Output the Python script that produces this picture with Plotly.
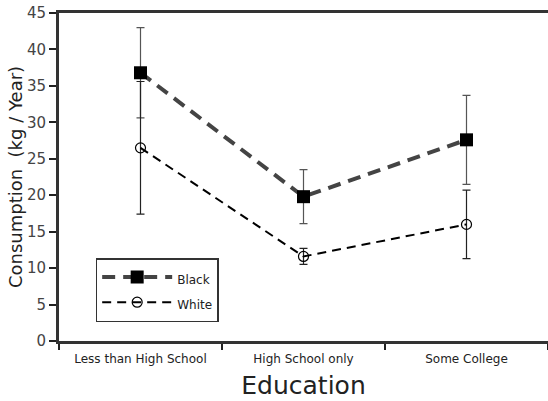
import plotly.graph_objects as go

categories = ["Less than High School", "High School only", "Some College"]
black_values = [36.8, 19.8, 27.6]
black_err = [6.2, 3.7, 6.1]
white_values = [26.5, 11.6, 16.0]
white_err = [9.1, 1.1, 4.7]
y_ticks = [0, 5, 10, 15, 20, 25, 30, 35, 40, 45]
series_names = ["Black", "White"]

FONT = "DejaVu Sans"
TXT = "#222222"


def legend_label(name):
    return f'<span style="font-size:12px">{name}</span>'


fig = go.Figure()
fig.add_trace(go.Scatter(
    x=categories, y=black_values, name=legend_label(series_names[0]), mode="lines+markers",
    line=dict(color="#444444", width=4, dash="13px,8px"),
    marker=dict(symbol="square", size=13, color="black"),
    error_y=dict(type="data", array=black_err, color="#555555", thickness=1.2, width=4),
))
fig.add_trace(go.Scatter(
    x=categories, y=white_values, name=legend_label(series_names[1]), mode="lines+markers",
    line=dict(color="black", width=2, dash="9px,6px"),
    marker=dict(symbol="circle-open", size=10, color="black", line=dict(width=1.2)),
    error_y=dict(type="data", array=white_err, color="#222222", thickness=1.2, width=4),
))

fig.update_layout(
    width=548, height=401,
    margin=dict(l=59, r=0, t=13, b=60),
    plot_bgcolor="white", paper_bgcolor="white",
    font=dict(family=FONT, color=TXT),
    showlegend=True,
    legend=dict(
        x=0.075, y=0.253, xanchor="left", yanchor="top",
        bordercolor="#333333", borderwidth=1.5, bgcolor="white",
        font=dict(size=17, family=FONT, color=TXT),
        itemwidth=70, traceorder="normal",
    ),
    xaxis=dict(
        type="category", range=[-0.5, 2.5], automargin=False,
        showline=True, linecolor="#333333", linewidth=3, mirror=True,
        ticks="outside", tickson="boundaries", ticklen=6, tickwidth=2, tickcolor="#222222",
        ticklabelstandoff=5,
        tickfont=dict(size=12, family=FONT, color=TXT),
        showgrid=False, zeroline=False,
        title=dict(text="Education", font=dict(size=25, family=FONT, color=TXT), standoff=12),
    ),
    yaxis=dict(
        range=[0, 45], tickvals=y_ticks, automargin=False,
        showline=True, linecolor="#333333", linewidth=3, mirror=False,
        ticks="outside", ticklen=7, tickwidth=2, tickcolor="#222222",
        tickfont=dict(size=15, family=FONT, color="#444444"),
        showgrid=False, zeroline=False,
        title=dict(text="Consumption  (kg / Year)", font=dict(size=18, family=FONT, color=TXT), standoff=0),
    ),
)

fig.write_html("out.html", config={"displayModeBar": False},
               post_script="document.body.style.margin='0';")
